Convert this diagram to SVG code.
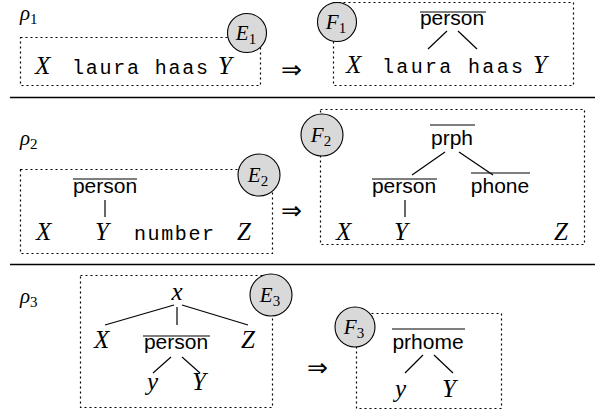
<svg xmlns="http://www.w3.org/2000/svg" width="600" height="415" viewBox="0 0 600 415">
<style>
.box{fill:none;stroke:#000;stroke-width:1.2;stroke-dasharray:2 3}
.tag{fill:#d9d9d9;stroke:#000;stroke-width:1.1}
.m{font-family:"Liberation Serif","DejaVu Serif",serif;font-style:italic;font-size:25px}
.sub{font-style:normal;font-size:15px}
.tt{font-family:"Liberation Mono","DejaVu Sans Mono",monospace;font-size:20px}
.sf{font-family:"Liberation Sans","DejaVu Sans",sans-serif;font-size:21px;text-anchor:middle}
.imp{font-family:"DejaVu Sans",sans-serif;font-size:25px}
.ol{stroke:#000;stroke-width:1.2}
.edge line{stroke:#000;stroke-width:1.2}
.rule{stroke:#000;stroke-width:1.4}
.c{text-anchor:middle;font-size:21px}
.rho{font-size:21px}
</style>

<!-- rule rho_1 -->
<text class="m rho" x="20" y="20">ρ<tspan class="sub" dy="4">1</tspan></text>
<g id="E1">
  <rect class="box" x="20.5" y="37.5" width="240" height="48"/>
  <circle class="tag" cx="247" cy="33" r="19.5"/>
  <text class="m c" x="246" y="40">E<tspan class="sub" dy="4">1</tspan></text>
  <text class="m" x="35" y="74">X</text>
  <text class="tt" x="72" y="74" textLength="136">laura haas</text>
  <text class="m" x="218" y="74">Y</text>
</g>
<text class="imp" x="281" y="78">⇒</text>
<g id="F1">
  <rect class="box" x="333.5" y="2.5" width="240" height="83"/>
  <circle class="tag" cx="337" cy="22" r="19.5"/>
  <text class="m c" x="336" y="29">F<tspan class="sub" dy="4">1</tspan></text>
  <text class="sf" x="452" y="25">person</text>
  <line class="ol" x1="420" y1="12" x2="486" y2="12"/>
  <text class="m" x="346" y="73">X</text>
  <text class="tt" x="382" y="73" textLength="141">laura haas</text>
  <text class="m" x="533" y="73">Y</text>
</g>
<line class="rule" x1="10" y1="97.5" x2="595" y2="97.5"/>

<!-- rule rho_2 -->
<text class="m rho" x="20" y="145">ρ<tspan class="sub" dy="4">2</tspan></text>
<g id="E2">
  <rect class="box" x="20.5" y="169.5" width="252" height="84"/>
  <circle class="tag" cx="259" cy="175" r="21"/>
  <text class="m c" x="258" y="182">E<tspan class="sub" dy="4">2</tspan></text>
  <text class="sf" x="105" y="193">person</text>
  <line class="ol" x1="73" y1="179" x2="137" y2="179"/>
  <text class="m" x="36" y="240">X</text>
  <text class="m" x="95" y="240">Y</text>
  <text class="tt" x="134" y="240" textLength="80">number</text>
  <text class="m" x="237" y="240">Z</text>
</g>
<text class="imp" x="281" y="219">⇒</text>
<g id="F2">
  <rect class="box" x="320.5" y="109.5" width="264" height="135"/>
  <circle class="tag" cx="322" cy="135" r="21"/>
  <text class="m c" x="321" y="142">F<tspan class="sub" dy="4">2</tspan></text>
  <text class="sf" x="452" y="145">prph</text>
  <line class="ol" x1="430" y1="125" x2="475" y2="125"/>
  <text class="sf" x="404" y="193">person</text>
  <line class="ol" x1="372" y1="179" x2="437" y2="179"/>
  <text class="sf" x="500" y="193">phone</text>
  <line class="ol" x1="471" y1="173" x2="530" y2="173"/>
  <text class="m" x="336" y="240">X</text>
  <text class="m" x="394" y="240">Y</text>
  <text class="m" x="554" y="240">Z</text>
</g>
<line class="rule" x1="10" y1="264.5" x2="595" y2="264.5"/>

<!-- rule rho_3 -->
<text class="m rho" x="20" y="303">ρ<tspan class="sub" dy="4">3</tspan></text>
<g id="E3">
  <rect class="box" x="80.5" y="275.5" width="192" height="132"/>
  <circle class="tag" cx="271" cy="295" r="21"/>
  <text class="m c" x="270" y="302">E<tspan class="sub" dy="4">3</tspan></text>
  <text class="m" x="177" y="300" text-anchor="middle">x</text>
  <text class="m" x="94" y="348">X</text>
  <text class="sf" x="176" y="349">person</text>
  <line class="ol" x1="143" y1="336" x2="210" y2="336"/>
  <text class="m" x="241" y="348">Z</text>
  <text class="m" x="147" y="390">y</text>
  <text class="m" x="192" y="390">Y</text>
</g>
<text class="imp" x="307" y="376">⇒</text>
<g id="F3">
  <rect class="box" x="356.5" y="313.5" width="145" height="95"/>
  <circle class="tag" cx="355" cy="327" r="20"/>
  <text class="m c" x="354" y="334">F<tspan class="sub" dy="4">3</tspan></text>
  <text class="sf" x="428" y="349">prhome</text>
  <line class="ol" x1="392" y1="329" x2="465" y2="329"/>
  <text class="m" x="395" y="397">y</text>
  <text class="m" x="442" y="397">Y</text>
</g>

<g id="connectors" class="edge">
  <line x1="447" y1="31" x2="428" y2="49"/>
  <line x1="458" y1="31" x2="477" y2="49"/>
  <line x1="105" y1="200" x2="105" y2="217"/>
  <line x1="445" y1="152" x2="412" y2="175"/>
  <line x1="459" y1="152" x2="493" y2="175"/>
  <line x1="405" y1="200" x2="405" y2="217"/>
  <line x1="174" y1="305" x2="105" y2="325"/>
  <line x1="177" y1="307" x2="177" y2="325"/>
  <line x1="182" y1="305" x2="248" y2="325"/>
  <line x1="171" y1="357" x2="153" y2="373"/>
  <line x1="182" y1="357" x2="200" y2="373"/>
  <line x1="423" y1="355" x2="405" y2="373"/>
  <line x1="434" y1="355" x2="453" y2="373"/>
</g>
</svg>
